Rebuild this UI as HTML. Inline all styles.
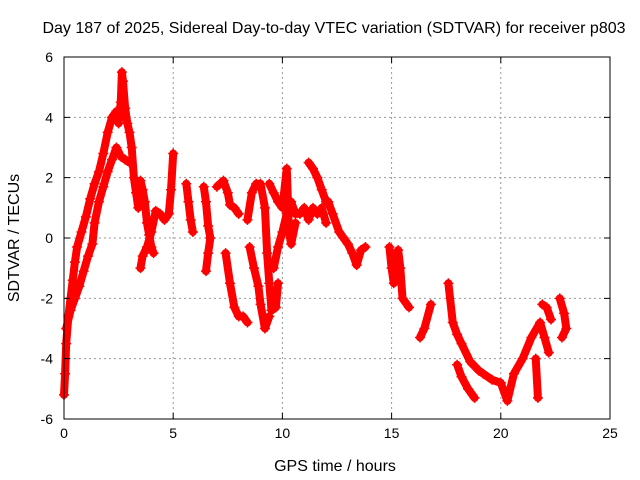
<!DOCTYPE html>
<html><head><meta charset="utf-8"><style>
body{margin:0;background:#fff}
svg{display:block;font-family:"Liberation Sans",Arial,sans-serif}
</style></head><body>
<svg id="chart" width="640" height="480" viewBox="0 0 640 480" xmlns="http://www.w3.org/2000/svg">
<text x="334" y="33" font-size="16" text-anchor="middle">Day 187 of 2025, Sidereal Day-to-day VTEC variation (SDTVAR) for receiver p803</text>
<text x="335" y="471" font-size="16" text-anchor="middle">GPS time / hours</text>
<text x="0" y="0" font-size="16" text-anchor="middle" transform="translate(19,238) rotate(-90)">SDTVAR / TECUs</text>
<g id="grid"></g>
<g id="marks"></g>
<rect x="64" y="57" width="546" height="362" fill="none" stroke="#000" stroke-width="1"/>
<g id="ticks"></g>
</svg>
<script>
const xTicks=[0,5,10,15,20,25];
const yTicks=[-6,-4,-2,0,2,4,6];
const trackA=[[0.0,-5.2],[0.05,-4.5],[0.1,-3.5],[0.2,-2.6],[0.3,-2.0],[0.4,-1.4],[0.5,-0.8],[0.6,-0.3],[0.8,0.2],[1.0,0.7],[1.2,1.3],[1.4,1.8],[1.6,2.2],[1.8,2.8],[2.0,3.5],[2.2,4.0],[2.4,4.2],[2.5,3.8],[2.6,4.5],[2.65,5.5],[2.7,5.2],[2.8,4.3],[2.9,3.8],[3.0,3.5],[3.1,3.0],[3.2,2.0],[3.3,1.5],[3.4,1.0]];
const trackB=[[0.1,-3.0],[0.3,-2.4],[0.5,-2.0],[0.7,-1.6],[0.9,-1.1],[1.1,-0.6],[1.3,-0.2],[1.4,0.5],[1.6,1.2],[1.8,1.7],[2.0,2.2],[2.2,2.6],[2.4,3.0],[2.6,2.7],[2.8,2.6],[3.0,2.5]];
const trackC=[[3.5,1.9],[3.6,1.6],[3.7,1.2],[3.8,0.5],[3.9,0.1],[4.0,-0.3],[4.1,-0.5]];
const trackD=[[3.5,-1.0],[3.6,-0.6],[3.8,-0.3],[4.0,0.2],[4.2,0.9],[4.4,0.8],[4.6,0.6],[4.8,0.8],[4.9,1.6],[5.0,2.8]];
const trackE=[[5.6,1.8],[5.7,1.2],[5.8,0.6],[5.9,0.2]];
const trackF=[[6.4,1.7],[6.5,1.2],[6.6,0.4],[6.7,0.0],[6.6,-0.5],[6.5,-1.1]];
const trackG=[[7.0,1.7],[7.3,1.9],[7.5,1.5],[7.6,1.1],[7.8,1.0],[8.0,0.8]];
const trackH=[[7.4,-0.5],[7.6,-1.5],[7.8,-2.3],[8.0,-2.6],[8.2,-2.6],[8.4,-2.8]];
const trackI=[[8.4,0.6],[8.6,1.5],[8.8,1.8],[9.0,1.8],[9.2,1.0],[9.3,-0.5],[9.4,-1.5],[9.5,-2.4],[9.7,-2.3],[9.8,-1.5]];
const trackJ=[[8.5,-0.3],[8.7,-1.0],[8.9,-1.6],[9.0,-2.2],[9.2,-3.0],[9.4,-2.6]];
const trackK=[[9.6,-1.0],[9.8,-0.3],[10.0,0.2],[10.2,0.8],[10.4,1.2],[10.6,0.8],[10.8,0.8],[11.0,1.0],[11.2,0.6],[11.4,1.0],[11.6,0.8],[11.8,1.0],[12.0,0.5]];
const trackL=[[9.4,1.8],[9.6,1.5],[9.8,1.2],[10.0,1.0],[10.2,2.3],[10.3,0.2],[10.4,-0.2],[10.6,0.5]];
const trackM=[[11.2,2.5],[11.4,2.3],[11.6,2.0],[11.8,1.6],[12.0,1.2],[12.1,1.2],[12.3,0.8],[12.6,0.2],[12.8,0.0],[13.0,-0.2],[13.2,-0.5],[13.4,-0.9],[13.6,-0.4],[13.8,-0.3]];
const trackN=[[14.9,-0.3],[15.0,-1.0],[15.1,-1.5],[15.3,-0.4],[15.4,-1.0],[15.5,-2.0],[15.8,-2.3]];
const trackO=[[16.3,-3.3],[16.5,-3.0],[16.8,-2.2]];
const trackP=[[17.6,-1.5],[17.8,-2.8],[18.0,-3.2],[18.2,-3.5],[18.6,-4.1],[19.0,-4.4],[19.2,-4.5],[19.6,-4.7],[20.0,-4.8],[20.3,-5.4],[20.6,-4.5],[21.0,-4.0],[21.4,-3.3],[21.8,-2.8],[22.0,-3.3],[22.2,-3.8]];
const trackQ=[[18.0,-4.2],[18.2,-4.6],[18.5,-5.0],[18.8,-5.3]];
const trackR=[[21.9,-2.2],[22.1,-2.3],[22.3,-2.7]];
const trackS=[[22.7,-2.0],[22.9,-2.5],[23.0,-3.0],[22.8,-3.3]];
const trackT=[[21.6,-4.0],[21.7,-5.3]];
const tracks=[trackA,trackB,trackC,trackD,trackE,trackF,trackG,trackH,trackI,trackJ,trackK,trackL,trackM,trackN,trackO,trackP,trackQ,trackR,trackS,trackT];

const X0=64,X1=610,Y0=419,Y1=57,xMin=0,xMax=25,yMin=-6,yMax=6;
const xs=v=>X0+(v-xMin)/(xMax-xMin)*(X1-X0);
const ys=v=>Y0-(v-yMin)/(yMax-yMin)*(Y0-Y1);
const NS='http://www.w3.org/2000/svg';
const mk=(t,a)=>{const e=document.createElementNS(NS,t);for(const k in a)e.setAttribute(k,a[k]);return e;};
const grid=document.getElementById('grid'),ticks=document.getElementById('ticks'),marks=document.getElementById('marks');
xTicks.forEach(t=>{const x=xs(t);
 if(t>xMin&&t<xMax){const g=mk('line',{x1:x,x2:x,y1:Y1,y2:Y0,stroke:'#999','stroke-dasharray':'2,3'});
 
 grid.appendChild(g);}
 const tk=mk('path',{d:`M${x},${Y0}v-6M${x},${Y1}v6`,stroke:'#000'});
 
 ticks.appendChild(tk);
 const l=mk('text',{x:x,y:Y0+19,'font-size':14,'text-anchor':'middle'});l.textContent=t;
 
 ticks.appendChild(l);});
yTicks.forEach(t=>{const y=ys(t);
 if(t>yMin&&t<yMax){const g=mk('line',{x1:X0,x2:X1,y1:y,y2:y,stroke:'#999','stroke-dasharray':'2,3'});
 
 grid.appendChild(g);}
 const tk=mk('path',{d:`M${X0},${y}h6M${X1},${y}h-6`,stroke:'#000'});
 
 ticks.appendChild(tk);
 const l=mk('text',{x:X0-11,y:y+5,'font-size':14,'text-anchor':'end'});l.textContent=t;
 
 ticks.appendChild(l);});
tracks.forEach(tr=>{
 const pl=mk('polyline',{points:tr.map(p=>xs(p[0])+','+ys(p[1])).join(' '),fill:'none',stroke:'#f00','stroke-width':8,'stroke-linejoin':'round','stroke-linecap':'round'});
 
 marks.appendChild(pl);
 tr.forEach(p=>{const x=xs(p[0]),y=ys(p[1]);
  const m=mk('path',{d:`M${x-5},${y}h10M${x},${y-5}v10`,stroke:'#f00','stroke-width':1.5});
  
  marks.appendChild(m);});
});
</script>
</body></html>
